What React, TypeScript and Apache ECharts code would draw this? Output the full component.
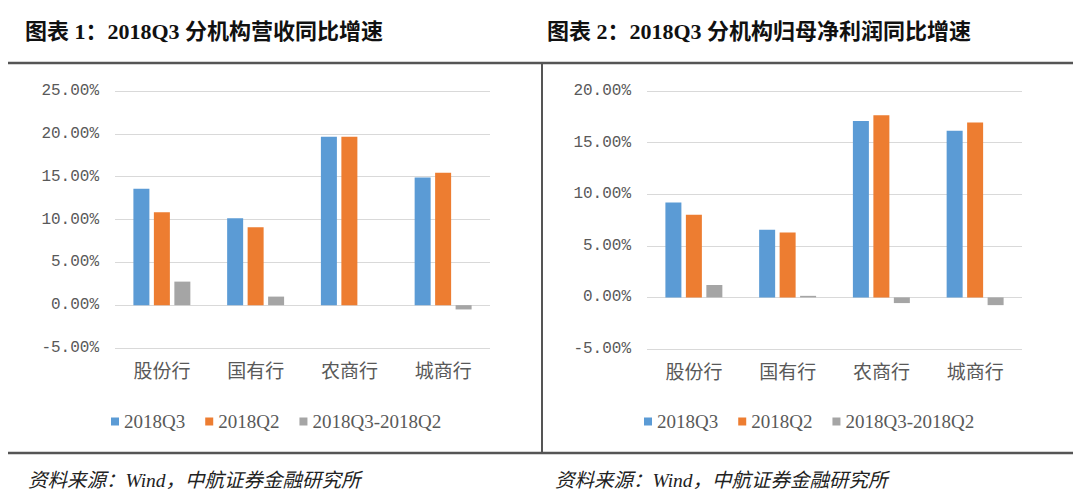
import React, { useEffect, useRef } from "react";
import * as echarts from "echarts";

const categories = ["股份行", "国有行", "农商行", "城商行"];
const seriesNames = ["2018Q3", "2018Q2", "2018Q3-2018Q2"];
const revenueQ3 = [13.6, 10.15, 19.65, 14.9];
const revenueQ2 = [10.85, 9.1, 19.65, 15.45];
const revenueDiff = [2.75, 1.0, 0, -0.5];
const profitQ3 = [9.2, 6.55, 17.1, 16.15];
const profitQ2 = [8.0, 6.3, 17.65, 16.95];
const profitDiff = [1.2, 0.15, -0.55, -0.75];
const titles = ["图表 1：2018Q3 分机构营收同比增速", "图表 2：2018Q3 分机构归母净利润同比增速"];
const sourceText = "资料来源：Wind，中航证券金融研究所";

const colors = ["#5B9BD5", "#ED7D31", "#A5A5A5"];
const serif = "'Liberation Serif', 'Noto Sans CJK SC', serif";
const mono = "'Liberation Mono', 'Liberation Serif', monospace";
const textColor = "#595959";

export default function App() {
  const ref = useRef<HTMLDivElement>(null);
  useEffect(() => {
    if (!ref.current) return;
    const chart = echarts.init(ref.current, undefined, { renderer: "svg" });
    const yAxisBase = (gridIndex: number, min: number, max: number) => ({
      type: "value",
      gridIndex,
      min,
      max,
      interval: 5,
      axisLine: { show: false },
      axisTick: { show: false },
      splitLine: { lineStyle: { color: "#D9D9D9", width: 1 } },
      axisLabel: {
        color: textColor,
        fontFamily: mono,
        fontSize: 16,
        margin: 16,
        formatter: (v: number) => v.toFixed(2) + "%",
      },
    });
    const xAxisBase = (gridIndex: number) => ({
      type: "category",
      gridIndex,
      data: categories,
      axisLine: { show: false, onZero: false },
      axisTick: { show: false },
      axisLabel: {
        color: textColor,
        fontFamily: serif,
        fontSize: 19,
        margin: 14,
      },
    });
    const bar = (name: string, data: number[], idx: number, ci: number) => ({
      type: "bar",
      name,
      data,
      xAxisIndex: idx,
      yAxisIndex: idx,
      barWidth: 16,
      barGap: "28%",
      itemStyle: { color: colors[ci] },
    });
    const legendBase = (left: number) => ({
      left,
      top: 407,
      itemWidth: 8,
      itemHeight: 8,
      itemGap: 20,
      icon: "rect",
      textStyle: { color: textColor, fontFamily: serif, fontSize: 19 },
      data: seriesNames,
    });
    const titleFont = "bold 22px 'Liberation Serif', 'Noto Sans CJK SC', serif";
    const srcFont = "italic 19.5px 'Liberation Serif', 'Noto Sans CJK SC', serif";
    chart.setOption({
      animation: false,
      backgroundColor: "#ffffff",
      grid: [
        { left: 115, right: 590, top: 91, bottom: 151 },
        { left: 647, right: 58, top: 91, bottom: 150 },
      ],
      xAxis: [xAxisBase(0), xAxisBase(1)],
      yAxis: [yAxisBase(0, -5, 25), yAxisBase(1, -5, 20)],
      legend: [legendBase(106), legendBase(639)],
      series: [
        bar(seriesNames[0], revenueQ3, 0, 0),
        bar(seriesNames[1], revenueQ2, 0, 1),
        bar(seriesNames[2], revenueDiff, 0, 2),
        bar(seriesNames[0], profitQ3, 1, 0),
        bar(seriesNames[1], profitQ2, 1, 1),
        bar(seriesNames[2], profitDiff, 1, 2),
      ],
      graphic: [
        {
          type: "text",
          left: 25,
          top: 20,
          style: { text: titles[0], fill: "#111", font: titleFont },
        },
        {
          type: "text",
          left: 547,
          top: 20,
          style: { text: titles[1], fill: "#111", font: titleFont },
        },
        {
          type: "line",
          shape: { x1: 8, y1: 63, x2: 1073, y2: 63 },
          style: { stroke: "#555555", lineWidth: 2.5 },
        },
        {
          type: "line",
          shape: { x1: 8, y1: 453, x2: 1073, y2: 453 },
          style: { stroke: "#555555", lineWidth: 2.5 },
        },
        {
          type: "line",
          shape: { x1: 542, y1: 63, x2: 542, y2: 453 },
          style: { stroke: "#555555", lineWidth: 2 },
        },
        {
          type: "text",
          left: 28,
          top: 471,
          style: { text: sourceText, fill: "#222", font: srcFont },
        },
        {
          type: "text",
          left: 555,
          top: 471,
          style: { text: sourceText, fill: "#222", font: srcFont },
        },
      ],
    });
    return () => chart.dispose();
  }, []);
  return (
    <div
      ref={ref}
      style={{ position: "absolute", left: 0, top: 0, width: 1080, height: 499, background: "#fff" }}
    />
  );
}
